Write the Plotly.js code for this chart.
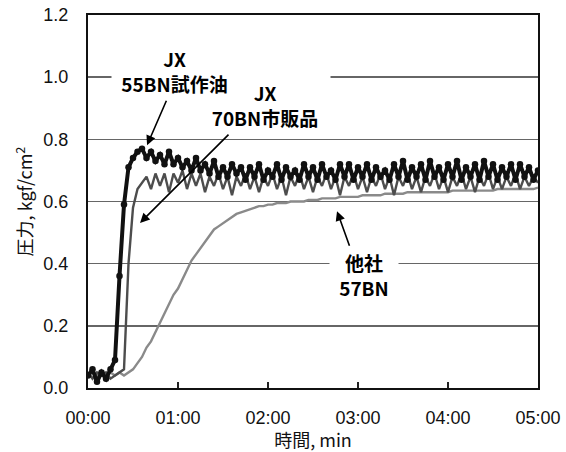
<!DOCTYPE html>
<html>
<head>
<meta charset="utf-8">
<script src="https://cdn.plot.ly/plotly-3.0.1.min.js"></script>
<style>html,body{margin:0;padding:0;background:#fff;}#chart{width:566px;height:452px;}</style>
</head>
<body>
<div id="chart"></div>
<script>
// time in minutes
const timeMin = [0.00,0.05,0.10,0.15,0.20,0.25,0.30,0.35,0.40,0.45,0.50,0.55,0.60,0.65,0.70,0.75,0.80,0.85,0.90,0.95,
1.00,1.05,1.10,1.15,1.20,1.25,1.30,1.35,1.40,1.45,1.50,1.55,1.60,1.65,1.70,1.75,1.80,1.85,1.90,1.95,
2.00,2.05,2.10,2.15,2.20,2.25,2.30,2.35,2.40,2.45,2.50,2.55,2.60,2.65,2.70,2.75,2.80,2.85,2.90,2.95,
3.00,3.05,3.10,3.15,3.20,3.25,3.30,3.35,3.40,3.45,3.50,3.55,3.60,3.65,3.70,3.75,3.80,3.85,3.90,3.95,
4.00,4.05,4.10,4.15,4.20,4.25,4.30,4.35,4.40,4.45,4.50,4.55,4.60,4.65,4.70,4.75,4.80,4.85,4.90,4.95,5.00];

// JX 55BN試作油 (kgf/cm2)
const jx55 = [0.04,0.06,0.02,0.05,0.03,0.06,0.09,0.36,0.59,0.71,0.74,0.76,0.77,0.74,0.76,0.73,0.75,0.72,0.76,0.72,
0.74,0.71,0.73,0.70,0.74,0.70,0.72,0.69,0.73,0.68,0.71,0.68,0.72,0.69,0.71,0.67,0.71,0.68,0.72,0.67,
0.70,0.68,0.72,0.67,0.71,0.68,0.70,0.67,0.72,0.68,0.71,0.67,0.72,0.68,0.70,0.67,0.72,0.68,0.72,0.67,
0.71,0.68,0.72,0.67,0.71,0.68,0.70,0.67,0.72,0.68,0.73,0.67,0.71,0.68,0.72,0.67,0.73,0.68,0.71,0.67,
0.72,0.68,0.73,0.67,0.71,0.68,0.72,0.67,0.73,0.68,0.72,0.67,0.71,0.68,0.72,0.67,0.72,0.68,0.71,0.67,0.70];

// JX 70BN市販品
const jx70 = [0.05,0.03,0.05,0.04,0.05,0.03,0.04,0.05,0.06,0.40,0.58,0.64,0.66,0.68,0.64,0.69,0.65,0.69,0.63,0.69,
0.66,0.70,0.64,0.69,0.65,0.69,0.63,0.68,0.65,0.69,0.64,0.68,0.62,0.68,0.65,0.69,0.64,0.68,0.63,0.68,
0.65,0.69,0.64,0.68,0.62,0.68,0.65,0.69,0.64,0.68,0.63,0.68,0.65,0.69,0.64,0.68,0.62,0.68,0.65,0.69,
0.64,0.68,0.63,0.68,0.65,0.69,0.64,0.68,0.62,0.68,0.65,0.69,0.64,0.68,0.63,0.68,0.65,0.69,0.64,0.68,
0.63,0.68,0.65,0.69,0.64,0.68,0.63,0.68,0.65,0.69,0.64,0.68,0.64,0.68,0.65,0.69,0.64,0.68,0.65,0.68,0.66];

// 他社 57BN
const other57 = [0.04,0.05,0.04,0.05,0.04,0.05,0.04,0.05,0.04,0.05,0.06,0.08,0.10,0.13,0.15,0.18,0.21,0.24,0.27,0.30,
0.32,0.35,0.38,0.41,0.43,0.45,0.47,0.49,0.51,0.52,0.53,0.54,0.55,0.56,0.565,0.57,0.575,0.58,0.585,0.585,
0.59,0.59,0.595,0.595,0.595,0.60,0.60,0.60,0.60,0.605,0.605,0.605,0.61,0.61,0.61,0.61,0.615,0.615,0.615,0.615,
0.615,0.62,0.62,0.62,0.62,0.62,0.625,0.625,0.625,0.625,0.625,0.63,0.63,0.63,0.63,0.63,0.63,0.63,0.63,0.63,
0.63,0.635,0.635,0.635,0.635,0.635,0.635,0.635,0.635,0.635,0.635,0.64,0.64,0.64,0.64,0.64,0.64,0.64,0.64,0.64,0.645];

const tickVals = [0,1,2,3,4,5];
const tickText = ["00:00","01:00","02:00","03:00","04:00","05:00"];
const labels = ["JX<br>55BN試作油","JX<br>70BN市販品","他社<br>57BN"];

const traces = [
  {x: timeMin, y: other57, type: 'scatter', mode: 'lines', line: {color: '#8a8a8a', width: 2.4}, hoverinfo: 'skip'},
  {x: timeMin, y: jx70, type: 'scatter', mode: 'lines', line: {color: '#4d4d4d', width: 2.4}, hoverinfo: 'skip'},
  {x: timeMin, y: jx55, type: 'scatter', mode: 'lines+markers', line: {color: '#111', width: 4},
   marker: {color: '#111', size: 6.5}, hoverinfo: 'skip'}
];

const lblFont = {family: 'Noto Sans CJK JP, sans-serif', size: 19, color: '#000', weight: 'bold'};
const axTitleFont = {family: 'Noto Sans CJK JP, sans-serif', size: 18, color: '#111'};

const layout = {
  width: 566, height: 452,
  margin: {l: 88, r: 28, t: 15, b: 64},
  paper_bgcolor: '#fff', plot_bgcolor: '#fff',
  showlegend: false,
  font: {family: 'Liberation Sans, Arial, sans-serif', size: 18, color: '#111'},
  xaxis: {
    range: [0, 5], tickvals: tickVals, ticktext: tickText,
    ticks: 'inside', ticklen: 6, tickwidth: 1.5, tickcolor: '#222',
    showgrid: false, zeroline: false,
    showline: true, linecolor: '#111', linewidth: 2, mirror: true,
    ticklabelstandoff: 12,
    title: {text: '時間, min', font: axTitleFont, standoff: 6}
  },
  yaxis: {
    range: [0, 1.2], tickvals: [0,0.2,0.4,0.6,0.8,1.0,1.2], ticktext: ['0.0','0.2','0.4','0.6','0.8','1.0','1.2'],
    ticks: '', showgrid: true, gridcolor: '#666', gridwidth: 1.5, zeroline: false,
    showline: true, linecolor: '#111', linewidth: 2, mirror: true,
    ticklabelstandoff: 14,
    title: {text: '圧力, kgf/cm<sup>2</sup>', font: axTitleFont, standoff: 6}
  },
  annotations: [
    {x: 1.967, y: 0.910, xref: 'x', yref: 'y', text: '<b>' + labels[1] + '</b>', showarrow: false,
     font: lblFont, bgcolor: '#fff', width: 130, height: 60, borderpad: 0, align: 'center', valign: 'middle'},
    {x: 0.961, y: 1.021, xref: 'x', yref: 'y', text: '<b>' + labels[0] + '</b>', showarrow: false,
     font: lblFont, bgcolor: '#fff', width: 125, height: 56, borderpad: 0, align: 'center', valign: 'middle'},
    {x: 3.067, y: 0.363, xref: 'x', yref: 'y', text: '<b>' + labels[2] + '</b>', showarrow: false,
     font: lblFont, bgcolor: '#fff', width: 68, height: 52, borderpad: 0, align: 'center', valign: 'middle'},
    {x: 0.656, y: 0.781, ax: 0.878, ay: 0.929, xref: 'x', yref: 'y', axref: 'x', ayref: 'y', text: '',
     showarrow: true, arrowhead: 2, arrowsize: 1.2, arrowwidth: 1.6, arrowcolor: '#000'},
    {x: 0.578, y: 0.531, ax: 1.578, ay: 0.820, xref: 'x', yref: 'y', axref: 'x', ayref: 'y', text: '',
     showarrow: true, arrowhead: 2, arrowsize: 1.2, arrowwidth: 1.6, arrowcolor: '#000'},
    {x: 2.767, y: 0.569, ax: 2.911, ay: 0.453, xref: 'x', yref: 'y', axref: 'x', ayref: 'y', text: '',
     showarrow: true, arrowhead: 2, arrowsize: 1.2, arrowwidth: 1.6, arrowcolor: '#000'}
  ]
};

Plotly.newPlot('chart', traces, layout, {staticPlot: true, displayModeBar: false});
</script>
</body>
</html>
